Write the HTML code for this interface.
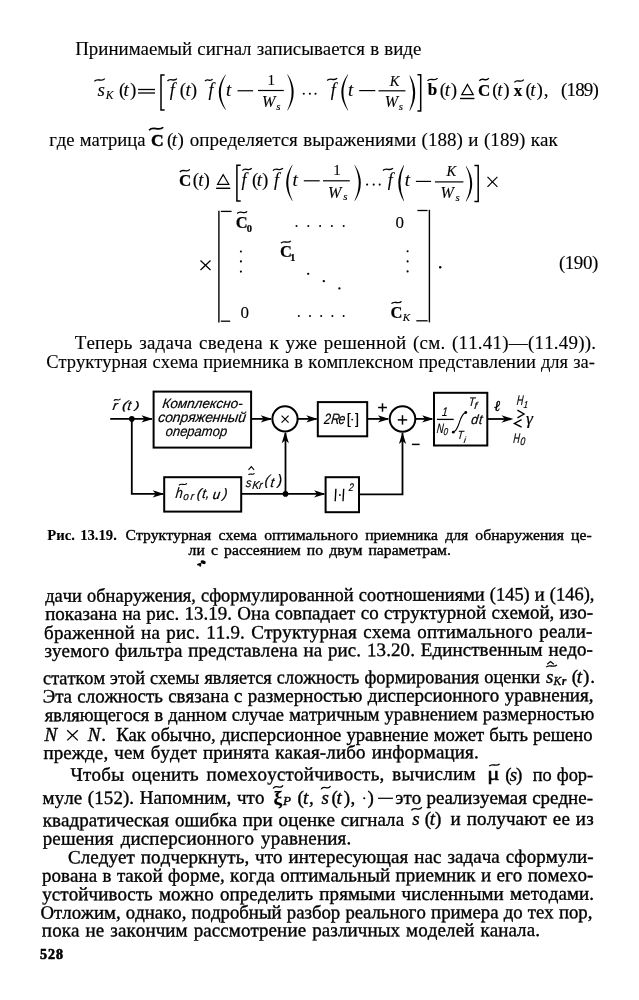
<!DOCTYPE html>
<html><head><meta charset="utf-8"><style>
html,body{margin:0;padding:0;background:#fff;}
svg{display:block;will-change:transform;}
text{font-family:"Liberation Serif",serif;fill:#000;font-kerning:none;white-space:pre;}
</style></head><body>
<svg width="639" height="1000" viewBox="0 0 639 1000">
<rect x="0" y="0" width="639" height="1000" fill="#fff"/>
<text transform="translate(75.21,55.00) scale(0.9954,1)" x="0" y="0" font-size="19" style="word-spacing:0.50px;stroke:#000;stroke-width:0.12px">Принимаемый сигнал записывается в виде</text>
<text transform="translate(49.16,146.00) scale(0.9829,1)" x="0" y="0" font-size="19" style="word-spacing:0.50px;stroke:#000;stroke-width:0.12px">где матрица</text>
<path d="M149.10,130.20 C153.33,125.40 158.97,132.00 163.20,127.20" fill="none" stroke="#000" stroke-width="1.7"/>
<text x="151.05" y="146.40" font-size="17.5" style="font-weight:bold;stroke:#000;stroke-width:0.5px">C</text>
<text x="167.07" y="146.00" font-size="19" style="stroke:#000;stroke-width:0.12px">(</text>
<text x="171.67" y="146.00" font-size="19" style="font-style:italic;stroke:#000;stroke-width:0.12px">t</text>
<text x="177.41" y="146.00" font-size="19" style="stroke:#000;stroke-width:0.12px">)</text>
<text x="189.68" y="146.00" font-size="19" style="word-spacing:0.67px;letter-spacing:0.03px;stroke:#000;stroke-width:0.12px"2.1058593750000227>определяется выражениями (188) и (189) как</text>
<text x="74.66" y="349.00" font-size="19" style="word-spacing:1.63px;letter-spacing:0.20px;stroke:#000;stroke-width:0.12px"19.76318359375>Теперь задача сведена к уже решенной (см. (11.41)—(11.49)).</text>
<text transform="translate(46.24,368.00) scale(0.9742,1)" x="0" y="0" font-size="19" style="word-spacing:0.50px;stroke:#000;stroke-width:0.12px">Структурная схема приемника в комплексном представлении для за-</text>
<text transform="translate(47.25,540.00) scale(1.0500,1)" x="0" y="0" font-size="14" style="font-weight:bold;stroke:#000;stroke-width:0.1px">Рис.</text>
<text transform="translate(80.15,540.00) scale(1.0500,1)" x="0" y="0" font-size="14" style="font-weight:bold;stroke:#000;stroke-width:0.1px">13.19.</text>
<text transform="translate(125.61,540.00) scale(1.1200,1)" x="0" y="0" font-size="14" style="word-spacing:2.89px;stroke:#000;stroke-width:0.35px">Структурная схема оптимального приемника для обнаружения це-</text>
<text transform="translate(188.60,555.00) scale(1.1200,1)" x="0" y="0" font-size="14" style="word-spacing:2.00px;stroke:#000;stroke-width:0.35px">ли с рассеянием по двум параметрам.</text>
<ellipse cx="203.2" cy="562.2" rx="2.7" ry="1.7" transform="rotate(20 203.2 562.2)" fill="#000"/>
<ellipse cx="199.3" cy="564.2" rx="2.4" ry="1.1" transform="rotate(-15 199.3 564.2)" fill="#000"/>
<ellipse cx="200.2" cy="565.3" rx="0.9" ry="1.5" fill="#000"/>
<text transform="rotate(-0.171 45.20 601.90) translate(45.20,601.90) scale(0.9712,1)" x="0" y="0" font-size="19" style="word-spacing:0.50px;stroke:#000;stroke-width:0.35px">дачи обнаружения, сформулированной соотношениями (145) и (146),</text>
<text transform="rotate(-0.165 45.50 620.00)" x="45.16" y="620.00" font-size="19" style="word-spacing:0.53px;letter-spacing:0.01px;stroke:#000;stroke-width:0.35px"0.7443359374999545>показана на рис. 13.19. Она совпадает со структурной схемой, изо-</text>
<text transform="rotate(-0.158 45.00 639.00)" x="44.11" y="639.00" font-size="19" style="word-spacing:1.44px;letter-spacing:0.16px;stroke:#000;stroke-width:0.35px"16.4912109375>браженной на рис. 11.9. Структурная схема оптимального реали-</text>
<text transform="rotate(-0.152 45.00 657.00)" x="44.46" y="657.00" font-size="19" style="word-spacing:0.97px;letter-spacing:0.08px;stroke:#000;stroke-width:0.35px"8.311718749999955>зуемого фильтра представлена на рис. 13.20. Единственным недо-</text>
<text transform="rotate(-0.142 43.80 684.20) translate(43.10,684.20) scale(0.9655,1)" x="0" y="0" font-size="19" style="word-spacing:0.50px;stroke:#000;stroke-width:0.35px">статком этой схемы является сложность формирования оценки</text>
<path d="M547.20,664.20 L550.50,661.60 L553.80,664.20" fill="none" stroke="#000" stroke-width="1.2"/>
<path d="M546.20,667.20 C549.41,663.36 553.69,668.64 556.90,664.80" fill="none" stroke="#000" stroke-width="1.3"/>
<text x="545.97" y="682.50" font-size="19" style="font-style:italic;stroke:#000;stroke-width:0.35px">s</text>
<text x="553.44" y="685.00" font-size="11.6" style="font-style:italic;stroke:#000;stroke-width:0.35px">K</text>
<text x="561.75" y="685.00" font-size="12" style="font-style:italic;font-weight:bold;stroke:#000;stroke-width:0.2px">r</text>
<text x="571.77" y="682.50" font-size="19" style="stroke:#000;stroke-width:0.35px">(</text>
<text x="576.87" y="682.50" font-size="19" style="font-style:italic;stroke:#000;stroke-width:0.35px">t</text>
<text x="582.91" y="682.50" font-size="19" style="stroke:#000;stroke-width:0.35px">)</text>
<text x="590.25" y="682.50" font-size="19" style="stroke:#000;stroke-width:0.35px">.</text>
<text transform="rotate(-0.135 43.75 702.50)" x="42.70" y="702.50" font-size="19" style="word-spacing:0.53px;letter-spacing:0.00px;stroke:#000;stroke-width:0.35px"0.39990234375>Эта сложность связана с размерностью дисперсионного уравнения,</text>
<text transform="rotate(-0.129 44.75 721.20) translate(44.70,721.20) scale(0.9725,1)" x="0" y="0" font-size="19" style="word-spacing:0.50px;stroke:#000;stroke-width:0.35px">являющегося в данном случае матричным уравнением размерностью</text>
<text x="44.54" y="740.50" font-size="19" style="font-style:italic;stroke:#000;stroke-width:0.35px">N</text>
<line x1="67.20" y1="730.20" x2="77.80" y2="740.40" stroke="#000" stroke-width="1.3"/>
<line x1="77.80" y1="730.20" x2="67.20" y2="740.40" stroke="#000" stroke-width="1.3"/>
<text x="87.84" y="740.50" font-size="19" style="font-style:italic;stroke:#000;stroke-width:0.35px">N</text>
<text x="101.35" y="740.50" font-size="19" style="stroke:#000;stroke-width:0.35px">.</text>
<text transform="translate(116.16,740.50) scale(0.9817,1)" x="0" y="0" font-size="19" style="word-spacing:0.50px;stroke:#000;stroke-width:0.35px">Как обычно, дисперсионное уравнение может быть решено</text>
<text transform="rotate(-0.115 43.75 759.00)" x="43.41" y="759.00" font-size="19" style="word-spacing:1.21px;letter-spacing:0.11px;stroke:#000;stroke-width:0.35px"8.8154296875>прежде, чем будет принята какая-либо информация.</text>
<text transform="rotate(-0.108 70.60 780.80)" x="70.41" y="780.80" font-size="19" style="word-spacing:2.67px;letter-spacing:0.24px;stroke:#000;stroke-width:0.35px"16.259472656249955>Чтобы оценить помехоустойчивость, вычислим</text>
<path d="M489.20,766.20 C492.32,762.36 496.48,767.64 499.60,763.80" fill="none" stroke="#000" stroke-width="1.3"/>
<text transform="translate(487.35,780.30) scale(1.2000,1)" x="0" y="0" font-size="19" style="stroke:#000;stroke-width:0.5px">μ</text>
<text x="505.27" y="780.50" font-size="19" style="stroke:#000;stroke-width:0.35px">(</text>
<text x="509.77" y="780.50" font-size="19" style="font-style:italic;stroke:#000;stroke-width:0.35px">s</text>
<text x="516.01" y="780.50" font-size="19" style="stroke:#000;stroke-width:0.35px">)</text>
<text transform="translate(532.67,780.50) scale(0.9671,1)" x="0" y="0" font-size="19" style="word-spacing:0.50px;stroke:#000;stroke-width:0.35px">по фор-</text>
<text transform="rotate(-0.099 43.00 804.00)" x="42.56" y="804.00" font-size="19" style="word-spacing:0.84px;letter-spacing:0.06px;stroke:#000;stroke-width:0.35px"2.5534179687500114>муле (152). Напомним, что</text>
<path d="M273.10,788.50 C276.07,783.38 280.03,790.42 283.00,785.30" fill="none" stroke="#000" stroke-width="1.3"/>
<text x="273.49" y="804.30" font-size="19.5" style="font-weight:bold;stroke:#000;stroke-width:0.2px">ξ</text>
<text transform="translate(283.07,804.50) scale(1.1500,1)" x="0" y="0" font-size="11.5" style="font-style:italic;stroke:#000;stroke-width:0.35px">P</text>
<text x="297.47" y="804.00" font-size="19" style="stroke:#000;stroke-width:0.35px">(</text>
<text x="302.97" y="804.00" font-size="19" style="font-style:italic;stroke:#000;stroke-width:0.35px">t</text>
<text x="309.08" y="804.00" font-size="19" style="stroke:#000;stroke-width:0.35px">,</text>
<path d="M321.10,789.20 C323.92,784.08 327.68,791.12 330.50,786.00" fill="none" stroke="#000" stroke-width="1.3"/>
<text x="321.52" y="803.50" font-size="19" style="font-style:italic;stroke:#000;stroke-width:0.35px">s</text>
<text x="331.57" y="803.50" font-size="19" style="stroke:#000;stroke-width:0.35px">(</text>
<text x="336.57" y="803.50" font-size="19" style="font-style:italic;stroke:#000;stroke-width:0.35px">t</text>
<text x="343.76" y="803.50" font-size="19" style="stroke:#000;stroke-width:0.35px">)</text>
<text x="350.38" y="803.50" font-size="19" style="stroke:#000;stroke-width:0.35px">,</text>
<circle cx="364.25" cy="798.25" r="1.10" fill="#000"/>
<text x="367.51" y="803.50" font-size="19" style="stroke:#000;stroke-width:0.35px">)</text>
<line x1="378.00" y1="798.30" x2="393.00" y2="798.30" stroke="#000" stroke-width="1.2"/>
<text transform="translate(395.36,803.50) scale(0.9988,1)" x="0" y="0" font-size="19" style="word-spacing:0.50px;stroke:#000;stroke-width:0.35px">это реализуемая средне-</text>
<text transform="rotate(-0.091 43.00 826.40)" x="42.66" y="826.40" font-size="19" style="word-spacing:0.96px;letter-spacing:0.07px;stroke:#000;stroke-width:0.35px"4.563183593750011>квадратическая ошибка при оценке сигнала</text>
<path d="M411.40,810.40 C414.52,805.28 418.68,812.32 421.80,807.20" fill="none" stroke="#000" stroke-width="1.3"/>
<text x="412.27" y="825.30" font-size="19" style="font-style:italic;stroke:#000;stroke-width:0.35px">s</text>
<text x="424.87" y="825.30" font-size="19" style="stroke:#000;stroke-width:0.35px">(</text>
<text x="429.77" y="825.30" font-size="19" style="font-style:italic;stroke:#000;stroke-width:0.35px">t</text>
<text x="435.01" y="825.30" font-size="19" style="stroke:#000;stroke-width:0.35px">)</text>
<text x="450.56" y="825.30" font-size="19" style="word-spacing:0.97px;letter-spacing:0.14px;stroke:#000;stroke-width:0.35px"3.4901367187500227>и получают ее из</text>
<text transform="rotate(-0.085 43.00 844.80)" x="42.69" y="844.80" font-size="19" style="word-spacing:2.01px;letter-spacing:0.14px;stroke:#000;stroke-width:0.35px"7.55712890625>решения дисперсионного уравнения.</text>
<text transform="rotate(-0.078 68.70 863.40)" x="67.92" y="863.40" font-size="19" style="word-spacing:1.02px;letter-spacing:0.08px;stroke:#000;stroke-width:0.35px"7.7340820312499545>Следует подчеркнуть, что интересующая нас задача сформули-</text>
<text transform="rotate(-0.072 42.40 881.80)" x="42.09" y="881.80" font-size="19" style="word-spacing:0.60px;letter-spacing:0.02px;stroke:#000;stroke-width:0.35px"2.3404296874999773>рована в такой форме, когда оптимальный приемник и его помехо-</text>
<text transform="rotate(-0.065 42.40 900.40)" x="42.17" y="900.40" font-size="19" style="word-spacing:1.26px;letter-spacing:0.10px;stroke:#000;stroke-width:0.35px"9.442968749999977>устойчивость можно определить прямыми численными методами.</text>
<text transform="rotate(-0.059 41.30 918.70) translate(40.53,918.70) scale(0.9894,1)" x="0" y="0" font-size="19" style="word-spacing:0.50px;stroke:#000;stroke-width:0.35px">Отложим, однако, подробный разбор реального примера до тех пор,</text>
<text transform="rotate(-0.057 42.20 936.60)" x="41.86" y="936.60" font-size="19" style="word-spacing:1.11px;letter-spacing:0.10px;stroke:#000;stroke-width:0.35px"9.087109375000011>пока не закончим рассмотрение различных моделей канала.</text>
<text x="40.04" y="959.00" font-size="14" style="font-weight:bold;letter-spacing:0.96px;stroke:#000;stroke-width:0.6px">528</text>
<path d="M94.40,81.30 C97.51,77.14 101.64,82.86 104.75,78.70" fill="none" stroke="#000" stroke-width="1.3"/>
<text x="97.52" y="96.00" font-size="19" style="font-style:italic;stroke:#000;stroke-width:0.12px">s</text>
<text x="105.73" y="98.60" font-size="11.5" style="font-style:italic;stroke:#000;stroke-width:0.12px">K</text>
<text x="118.92" y="96.00" font-size="19" style="stroke:#000;stroke-width:0.12px">(</text>
<text x="123.57" y="96.00" font-size="19" style="font-style:italic;stroke:#000;stroke-width:0.12px">t</text>
<text x="130.11" y="96.00" font-size="19" style="stroke:#000;stroke-width:0.12px">)</text>
<line x1="138.10" y1="89.50" x2="155.00" y2="89.50" stroke="#000" stroke-width="1.3"/>
<line x1="138.10" y1="93.00" x2="155.00" y2="93.00" stroke="#000" stroke-width="1.3"/>
<path d="M164.60,75.10 L161.00,75.10 L161.00,110.10 L164.60,110.10" fill="none" stroke="#000" stroke-width="1.5"/>
<path d="M167.50,81.00 C170.32,77.16 174.08,82.44 176.90,78.60" fill="none" stroke="#000" stroke-width="1.3"/>
<text x="169.80" y="96.00" font-size="18" style="font-style:italic;stroke:#000;stroke-width:0.12px">f</text>
<text x="179.77" y="96.00" font-size="19" style="stroke:#000;stroke-width:0.12px">(</text>
<text x="185.42" y="96.00" font-size="19" style="font-style:italic;stroke:#000;stroke-width:0.12px">t</text>
<text x="190.76" y="96.00" font-size="19" style="stroke:#000;stroke-width:0.12px">)</text>
<path d="M205.00,81.20 C207.25,77.68 210.25,82.52 212.50,79.00" fill="none" stroke="#000" stroke-width="1.3"/>
<text x="208.55" y="96.00" font-size="18" style="font-style:italic;stroke:#000;stroke-width:0.12px">f</text>
<path d="M225.60,74.50 Q211.90,92.30 225.60,110.10 L225.90,109.80 Q215.70,92.30 225.90,74.80 Z" fill="#000"/>
<text x="226.07" y="96.00" font-size="19" style="font-style:italic;stroke:#000;stroke-width:0.12px">t</text>
<line x1="237.50" y1="90.75" x2="253.10" y2="90.75" stroke="#000" stroke-width="1.2"/>
<line x1="258.00" y1="90.50" x2="283.80" y2="90.50" stroke="#000" stroke-width="1.2"/>
<text x="267.48" y="85.10" font-size="15" style="stroke:#000;stroke-width:0.12px">1</text>
<text x="262.05" y="107.00" font-size="16" style="font-style:italic;stroke:#000;stroke-width:0.12px">W</text>
<text x="276.17" y="109.60" font-size="11" style="font-style:italic;stroke:#000;stroke-width:0.12px">s</text>
<path d="M287.60,74.30 Q299.80,92.40 287.60,110.50 L287.30,110.20 Q296.00,92.40 287.30,74.60 Z" fill="#000"/>
<circle cx="303.80" cy="93.80" r="1.05" fill="#000"/>
<circle cx="309.90" cy="93.80" r="1.05" fill="#000"/>
<circle cx="315.50" cy="93.80" r="1.05" fill="#000"/>
<path d="M327.20,80.50 C330.17,76.66 334.13,81.94 337.10,78.10" fill="none" stroke="#000" stroke-width="1.3"/>
<text x="330.80" y="96.00" font-size="18" style="font-style:italic;stroke:#000;stroke-width:0.12px">f</text>
<path d="M347.90,74.30 Q334.70,92.40 347.90,110.50 L348.20,110.20 Q338.50,92.40 348.20,74.60 Z" fill="#000"/>
<text x="347.97" y="96.00" font-size="19" style="font-style:italic;stroke:#000;stroke-width:0.12px">t</text>
<line x1="359.20" y1="90.60" x2="375.30" y2="90.60" stroke="#000" stroke-width="1.2"/>
<line x1="378.50" y1="90.80" x2="405.40" y2="90.80" stroke="#000" stroke-width="1.2"/>
<text x="389.67" y="86.00" font-size="14.5" style="font-style:italic;stroke:#000;stroke-width:0.12px">K</text>
<text x="384.65" y="107.00" font-size="16" style="font-style:italic;stroke:#000;stroke-width:0.12px">W</text>
<text x="398.67" y="110.30" font-size="11" style="font-style:italic;stroke:#000;stroke-width:0.12px">s</text>
<path d="M409.80,75.30 Q420.60,93.10 409.80,110.90 L409.50,110.60 Q416.80,93.10 409.50,75.60 Z" fill="#000"/>
<path d="M417.40,74.70 L420.70,74.70 L420.70,110.90 L417.40,110.90" fill="none" stroke="#000" stroke-width="1.5"/>
<path d="M427.50,80.80 C430.50,76.64 434.50,82.36 437.50,78.20" fill="none" stroke="#000" stroke-width="1.3"/>
<text x="427.78" y="95.10" font-size="17" style="font-weight:bold;stroke:#000;stroke-width:0.2px">b</text>
<text x="439.77" y="96.00" font-size="19" style="stroke:#000;stroke-width:0.12px">(</text>
<text x="444.77" y="96.00" font-size="19" style="font-style:italic;stroke:#000;stroke-width:0.12px">t</text>
<text x="450.76" y="96.00" font-size="19" style="stroke:#000;stroke-width:0.12px">)</text>
<path d="M467.5,84.4 L461.8,94.6 L473.2,94.6 Z" fill="none" stroke="#000" stroke-width="1.2"/>
<line x1="460.00" y1="98.50" x2="474.40" y2="98.50" stroke="#000" stroke-width="1.4"/>
<path d="M479.40,80.90 C482.20,76.42 485.94,82.58 488.75,78.10" fill="none" stroke="#000" stroke-width="1.3"/>
<text x="477.92" y="96.00" font-size="17" style="font-weight:bold;stroke:#000;stroke-width:0.2px">C</text>
<text x="492.27" y="96.00" font-size="19" style="stroke:#000;stroke-width:0.12px">(</text>
<text x="497.17" y="96.00" font-size="19" style="font-style:italic;stroke:#000;stroke-width:0.12px">t</text>
<text x="503.26" y="96.00" font-size="19" style="stroke:#000;stroke-width:0.12px">)</text>
<path d="M514.40,82.30 C517.20,78.14 520.94,83.86 523.75,79.70" fill="none" stroke="#000" stroke-width="1.3"/>
<text x="513.68" y="96.00" font-size="17" style="font-weight:bold;stroke:#000;stroke-width:0.2px">x</text>
<text x="525.42" y="96.00" font-size="19" style="stroke:#000;stroke-width:0.12px">(</text>
<text x="530.37" y="96.00" font-size="19" style="font-style:italic;stroke:#000;stroke-width:0.12px">t</text>
<text x="536.41" y="96.00" font-size="19" style="stroke:#000;stroke-width:0.12px">)</text>
<text x="543.68" y="96.00" font-size="19" style="stroke:#000;stroke-width:0.12px">,</text>
<text x="561.07" y="96.00" font-size="19" style="letter-spacing:-0.85px;stroke:#000;stroke-width:0.12px">(189)</text>
<path d="M179.90,172.00 C182.87,167.84 186.83,173.56 189.80,169.40" fill="none" stroke="#000" stroke-width="1.3"/>
<text x="179.07" y="185.70" font-size="17" style="font-weight:bold;stroke:#000;stroke-width:0.2px">C</text>
<text x="192.77" y="186.00" font-size="19" style="stroke:#000;stroke-width:0.12px">(</text>
<text x="198.27" y="186.00" font-size="19" style="font-style:italic;stroke:#000;stroke-width:0.12px">t</text>
<text x="203.51" y="186.00" font-size="19" style="stroke:#000;stroke-width:0.12px">)</text>
<path d="M223.2,174.6 L217.6,184.3 L228.8,184.3 Z" fill="none" stroke="#000" stroke-width="1.2"/>
<line x1="216.10" y1="188.30" x2="230.30" y2="188.30" stroke="#000" stroke-width="1.4"/>
<path d="M240.70,165.30 L236.90,165.30 L236.90,200.90 L240.70,200.90" fill="none" stroke="#000" stroke-width="1.5"/>
<path d="M242.40,170.60 C245.19,166.76 248.91,172.04 251.70,168.20" fill="none" stroke="#000" stroke-width="1.3"/>
<text x="241.60" y="186.00" font-size="18" style="font-style:italic;stroke:#000;stroke-width:0.12px">f</text>
<text x="251.97" y="186.00" font-size="19" style="stroke:#000;stroke-width:0.12px">(</text>
<text x="256.87" y="186.00" font-size="19" style="font-style:italic;stroke:#000;stroke-width:0.12px">t</text>
<text x="262.11" y="186.00" font-size="19" style="stroke:#000;stroke-width:0.12px">)</text>
<path d="M273.00,170.60 C275.97,166.76 279.93,172.04 282.90,168.20" fill="none" stroke="#000" stroke-width="1.3"/>
<text x="273.90" y="186.00" font-size="18" style="font-style:italic;stroke:#000;stroke-width:0.12px">f</text>
<path d="M292.20,164.70 Q280.20,182.80 292.20,200.90 L292.50,200.60 Q284.00,182.80 292.50,165.00 Z" fill="#000"/>
<text x="292.47" y="186.00" font-size="19" style="font-style:italic;stroke:#000;stroke-width:0.12px">t</text>
<line x1="303.80" y1="180.80" x2="319.70" y2="180.80" stroke="#000" stroke-width="1.2"/>
<line x1="323.00" y1="180.80" x2="349.80" y2="180.80" stroke="#000" stroke-width="1.2"/>
<text x="333.18" y="175.30" font-size="15" style="stroke:#000;stroke-width:0.12px">1</text>
<text x="327.95" y="197.80" font-size="16" style="font-style:italic;stroke:#000;stroke-width:0.12px">W</text>
<text x="343.17" y="200.30" font-size="11" style="font-style:italic;stroke:#000;stroke-width:0.12px">s</text>
<path d="M354.80,164.90 Q366.80,182.95 354.80,201.00 L354.50,200.70 Q363.00,182.95 354.50,165.20 Z" fill="#000"/>
<circle cx="367.10" cy="184.60" r="1.05" fill="#000"/>
<circle cx="373.70" cy="184.60" r="1.05" fill="#000"/>
<circle cx="379.70" cy="184.60" r="1.05" fill="#000"/>
<path d="M383.00,170.50 C385.97,166.66 389.93,171.94 392.90,168.10" fill="none" stroke="#000" stroke-width="1.3"/>
<text x="387.70" y="186.00" font-size="18" style="font-style:italic;stroke:#000;stroke-width:0.12px">f</text>
<path d="M403.80,164.90 Q392.80,183.05 403.80,201.20 L404.10,200.90 Q396.60,183.05 404.10,165.20 Z" fill="#000"/>
<text x="404.67" y="186.00" font-size="19" style="font-style:italic;stroke:#000;stroke-width:0.12px">t</text>
<line x1="415.90" y1="181.40" x2="431.10" y2="181.40" stroke="#000" stroke-width="1.2"/>
<line x1="434.90" y1="181.90" x2="463.40" y2="181.90" stroke="#000" stroke-width="1.2"/>
<text x="446.57" y="176.40" font-size="14.5" style="font-style:italic;stroke:#000;stroke-width:0.12px">K</text>
<text x="440.45" y="198.30" font-size="16" style="font-style:italic;stroke:#000;stroke-width:0.12px">W</text>
<text x="455.57" y="201.30" font-size="11" style="font-style:italic;stroke:#000;stroke-width:0.12px">s</text>
<path d="M466.10,166.00 Q478.30,183.80 466.10,201.60 L465.80,201.30 Q474.50,183.80 465.80,166.30 Z" fill="#000"/>
<path d="M474.40,165.50 L478.20,165.50 L478.20,201.60 L474.40,201.60" fill="none" stroke="#000" stroke-width="1.5"/>
<line x1="487.50" y1="176.90" x2="497.40" y2="186.90" stroke="#000" stroke-width="1.2"/>
<line x1="497.40" y1="176.90" x2="487.50" y2="186.90" stroke="#000" stroke-width="1.2"/>
<line x1="200.50" y1="260.50" x2="210.50" y2="270.00" stroke="#000" stroke-width="1.2"/>
<line x1="210.50" y1="260.50" x2="200.50" y2="270.00" stroke="#000" stroke-width="1.2"/>
<line x1="218.90" y1="210.80" x2="218.90" y2="322.60" stroke="#000" stroke-width="1.4"/>
<line x1="220.80" y1="211.40" x2="231.60" y2="211.40" stroke="#000" stroke-width="1.3"/>
<line x1="220.80" y1="321.20" x2="230.20" y2="321.20" stroke="#000" stroke-width="1.3"/>
<line x1="429.40" y1="209.80" x2="429.40" y2="322.40" stroke="#000" stroke-width="1.4"/>
<line x1="417.40" y1="210.50" x2="427.60" y2="210.50" stroke="#000" stroke-width="1.3"/>
<line x1="416.30" y1="320.80" x2="427.60" y2="320.80" stroke="#000" stroke-width="1.3"/>
<path d="M237.20,213.50 C240.17,209.98 244.13,214.82 247.10,211.30" fill="none" stroke="#000" stroke-width="1.3"/>
<text x="235.69" y="227.50" font-size="16.5" style="font-weight:bold;stroke:#000;stroke-width:0.2px">C</text>
<text x="246.70" y="231.80" font-size="10.5" style="font-weight:bold;stroke:#000;stroke-width:0.2px">0</text>
<circle cx="296.50" cy="226.00" r="1.00" fill="#000"/>
<circle cx="308.30" cy="226.00" r="1.00" fill="#000"/>
<circle cx="320.10" cy="226.00" r="1.00" fill="#000"/>
<circle cx="331.90" cy="226.00" r="1.00" fill="#000"/>
<circle cx="343.70" cy="226.00" r="1.00" fill="#000"/>
<text x="395.60" y="228.00" font-size="17" style="stroke:#000;stroke-width:0.12px">0</text>
<circle cx="240.90" cy="251.50" r="1.05" fill="#000"/>
<circle cx="240.90" cy="261.40" r="1.05" fill="#000"/>
<circle cx="240.90" cy="271.60" r="1.05" fill="#000"/>
<path d="M280.90,243.10 C283.87,239.58 287.83,244.42 290.80,240.90" fill="none" stroke="#000" stroke-width="1.3"/>
<text x="280.09" y="257.10" font-size="16.5" style="font-weight:bold;stroke:#000;stroke-width:0.2px">C</text>
<text x="289.92" y="260.60" font-size="11" style="font-weight:bold;stroke:#000;stroke-width:0.2px">1</text>
<circle cx="407.60" cy="251.30" r="1.05" fill="#000"/>
<circle cx="407.60" cy="261.40" r="1.05" fill="#000"/>
<circle cx="407.60" cy="271.40" r="1.05" fill="#000"/>
<circle cx="308.20" cy="273.80" r="1.15" fill="#000"/>
<circle cx="323.80" cy="281.20" r="1.15" fill="#000"/>
<circle cx="339.40" cy="288.40" r="1.15" fill="#000"/>
<text x="240.60" y="317.50" font-size="17" style="stroke:#000;stroke-width:0.12px">0</text>
<circle cx="298.80" cy="316.00" r="1.00" fill="#000"/>
<circle cx="310.00" cy="316.00" r="1.00" fill="#000"/>
<circle cx="321.20" cy="316.00" r="1.00" fill="#000"/>
<circle cx="332.40" cy="316.00" r="1.00" fill="#000"/>
<circle cx="343.60" cy="316.00" r="1.00" fill="#000"/>
<path d="M391.50,303.70 C394.50,299.86 398.50,305.14 401.50,301.30" fill="none" stroke="#000" stroke-width="1.3"/>
<text x="390.44" y="317.50" font-size="16.5" style="font-weight:bold;stroke:#000;stroke-width:0.2px">C</text>
<text x="402.63" y="320.50" font-size="11" style="font-style:italic;stroke:#000;stroke-width:0.12px">K</text>
<circle cx="440.20" cy="267.20" r="1.20" fill="#000"/>
<text x="558.92" y="269.40" font-size="19" style="letter-spacing:-0.43px;stroke:#000;stroke-width:0.12px">(190)</text>
<line x1="110.20" y1="418.90" x2="152.00" y2="418.90" stroke="#000" stroke-width="1.8"/>
<polygon points="153.00,418.90 141.50,415.30 144.50,418.90 141.50,422.50" fill="#000"/>
<circle cx="131.80" cy="418.90" r="2.80" fill="#000"/>
<line x1="131.80" y1="418.90" x2="131.80" y2="493.90" stroke="#000" stroke-width="1.8"/>
<line x1="130.90" y1="493.90" x2="163.00" y2="493.90" stroke="#000" stroke-width="1.8"/>
<polygon points="164.20,493.90 152.70,490.30 155.70,493.90 152.70,497.50" fill="#000"/>
<rect x="153.60" y="391.60" width="97.50" height="56.00" fill="none" stroke="#000" stroke-width="2"/>
<line x1="251.10" y1="418.90" x2="271.00" y2="418.90" stroke="#000" stroke-width="1.8"/>
<polygon points="272.20,418.90 260.70,415.30 263.70,418.90 260.70,422.50" fill="#000"/>
<circle cx="285.00" cy="418.90" r="12.60" fill="none" stroke="#000" stroke-width="2"/>
<line x1="281.60" y1="415.60" x2="288.60" y2="422.60" stroke="#000" stroke-width="1.2"/>
<line x1="288.60" y1="415.60" x2="281.60" y2="422.60" stroke="#000" stroke-width="1.2"/>
<line x1="298.00" y1="418.90" x2="316.50" y2="418.90" stroke="#000" stroke-width="1.8"/>
<polygon points="317.80,418.90 306.30,415.30 309.30,418.90 306.30,422.50" fill="#000"/>
<rect x="317.80" y="402.10" width="49.40" height="34.20" fill="none" stroke="#000" stroke-width="2"/>
<line x1="367.20" y1="418.90" x2="388.00" y2="418.90" stroke="#000" stroke-width="1.8"/>
<polygon points="389.40,418.90 377.90,415.30 380.90,418.90 377.90,422.50" fill="#000"/>
<circle cx="402.50" cy="419.00" r="12.80" fill="none" stroke="#000" stroke-width="2"/>
<line x1="402.50" y1="415.20" x2="402.50" y2="424.60" stroke="#000" stroke-width="1.5"/>
<line x1="397.80" y1="419.90" x2="407.20" y2="419.90" stroke="#000" stroke-width="1.5"/>
<line x1="415.60" y1="418.90" x2="432.00" y2="418.90" stroke="#000" stroke-width="1.8"/>
<polygon points="433.60,418.90 422.10,415.30 425.10,418.90 422.10,422.50" fill="#000"/>
<rect x="434.00" y="392.80" width="53.30" height="52.70" fill="none" stroke="#000" stroke-width="2"/>
<line x1="487.30" y1="419.00" x2="511.00" y2="419.00" stroke="#000" stroke-width="1.8"/>
<polygon points="513.40,419.00 501.40,415.20 504.90,419.00 501.40,422.80" fill="#000"/>
<line x1="241.20" y1="493.90" x2="324.00" y2="493.90" stroke="#000" stroke-width="1.8"/>
<polygon points="325.60,493.90 314.10,490.30 317.10,493.90 314.10,497.50" fill="#000"/>
<circle cx="285.50" cy="493.90" r="2.80" fill="#000"/>
<line x1="285.50" y1="493.90" x2="285.50" y2="433.00" stroke="#000" stroke-width="1.8"/>
<polygon points="285.30,431.80 281.70,443.30 285.30,440.30 288.90,443.30" fill="#000"/>
<rect x="164.20" y="477.20" width="77.00" height="34.40" fill="none" stroke="#000" stroke-width="2"/>
<rect x="325.60" y="477.20" width="33.40" height="35.00" fill="none" stroke="#000" stroke-width="2"/>
<polyline points="359,494.3 402.5,494.3 402.5,433" fill="none" stroke="#000" stroke-width="1.8"/>
<polygon points="402.50,432.40 398.90,443.90 402.50,440.90 406.10,443.90" fill="#000"/>
<path d="M113.90,400.80 C115.88,397.60 118.52,402.00 120.50,398.80" fill="none" stroke="#000" stroke-width="1.1"/>
<text transform="translate(112.26,410.30) scale(1.1000,1) skewX(-7)" x="0" y="0" font-size="13" style="font-family:'Liberation Sans';font-style:italic;stroke:#000;stroke-width:0.2px">r</text>
<text transform="translate(121.67,409.30) scale(1.3500,1) skewX(-7)" x="0" y="0" font-size="11.6" style="font-family:'Liberation Sans';font-style:italic;stroke:#000;stroke-width:0.2px">(</text>
<text transform="translate(126.99,410.30) scale(1.0000,1) skewX(-7)" x="0" y="0" font-size="13.5" style="font-family:'Liberation Sans';font-style:italic;stroke:#000;stroke-width:0.2px">t</text>
<text transform="translate(134.52,409.30) scale(1.3500,1)" x="0" y="0" font-size="11.6" style="font-family:'Liberation Sans';font-style:italic;stroke:#000;stroke-width:0.2px">)</text>
<text transform="translate(161.88,407.70) scale(1.0000,1) skewX(-7)" x="0" y="0" font-size="13.5" style="font-family:'Liberation Sans';font-style:italic;letter-spacing:0.05px;stroke:#000;stroke-width:0.2px">Комnлексно-</text>
<text transform="translate(157.74,421.70) scale(1.0000,1) skewX(-7)" x="0" y="0" font-size="14" style="font-family:'Liberation Sans';font-style:italic;letter-spacing:-0.09px;stroke:#000;stroke-width:0.2px">соnряженный</text>
<text transform="translate(165.17,436.30) scale(0.9300,1) skewX(-7)" x="0" y="0" font-size="14" style="font-family:'Liberation Sans';font-style:italic;stroke:#000;stroke-width:0.2px">оnераmор</text>
<text transform="translate(323.82,424.40) scale(0.8000,1) skewX(-7)" x="0" y="0" font-size="15" style="font-family:'Liberation Sans';font-style:italic;stroke:#000;stroke-width:0.2px">2</text>
<text transform="translate(330.63,424.40) scale(0.8000,1) skewX(-7)" x="0" y="0" font-size="15" style="font-family:'Liberation Sans';font-style:italic;letter-spacing:-1.41px;stroke:#000;stroke-width:0.2px">Re</text>
<text x="346.72" y="423.90" font-size="14.5" style="font-family:'Liberation Sans';stroke:#000;stroke-width:0.2px">[</text>
<circle cx="352.20" cy="419.60" r="0.90" fill="#000"/>
<text x="355.11" y="423.90" font-size="14.5" style="font-family:'Liberation Sans';stroke:#000;stroke-width:0.2px">]</text>
<line x1="378.10" y1="407.50" x2="386.90" y2="407.50" stroke="#000" stroke-width="1.5"/>
<line x1="382.50" y1="403.30" x2="382.50" y2="411.70" stroke="#000" stroke-width="1.5"/>
<line x1="411.90" y1="444.40" x2="419.60" y2="444.40" stroke="#000" stroke-width="1.5"/>
<text transform="translate(441.64,416.30) scale(0.8000,1) skewX(-7)" x="0" y="0" font-size="12.5" style="font-family:'Liberation Sans';font-style:italic;stroke:#000;stroke-width:0.2px">1</text>
<line x1="436.90" y1="419.40" x2="453.70" y2="419.40" stroke="#000" stroke-width="1.3"/>
<text transform="translate(436.61,432.50) scale(0.7000,1) skewX(-7)" x="0" y="0" font-size="13.5" style="font-family:'Liberation Sans';font-style:italic;stroke:#000;stroke-width:0.2px">N</text>
<text transform="translate(443.15,435.00) scale(0.8000,1) skewX(-7)" x="0" y="0" font-size="10" style="font-family:'Liberation Sans';font-style:italic;stroke:#000;stroke-width:0.2px">0</text>
<path d="M453.6,431.8 C456.5,431 457.5,428 459,423.5 C460.5,419 462,413.5 465.6,412.6" fill="none" stroke="#000" stroke-width="1.1"/>
<circle cx="453.30" cy="432.20" r="1.40" fill="#000"/>
<circle cx="465.80" cy="412.50" r="1.40" fill="#000"/>
<text transform="translate(468.50,405.50) scale(0.8000,1) skewX(-7)" x="0" y="0" font-size="12.5" style="font-family:'Liberation Sans';font-style:italic;stroke:#000;stroke-width:0.2px">T</text>
<text transform="translate(474.06,408.60) scale(1.0000,1) skewX(-7)" x="0" y="0" font-size="10" style="font-family:'Liberation Sans';font-style:italic;stroke:#000;stroke-width:0.2px">f</text>
<text transform="translate(470.82,424.30) scale(0.9500,1) skewX(-7)" x="0" y="0" font-size="13.5" style="font-family:'Liberation Sans';font-style:italic;stroke:#000;stroke-width:0.2px">d</text>
<text transform="translate(478.62,424.30) scale(0.9500,1) skewX(-7)" x="0" y="0" font-size="13.5" style="font-family:'Liberation Sans';font-style:italic;stroke:#000;stroke-width:0.2px">t</text>
<text transform="translate(457.24,439.20) scale(0.8000,1) skewX(-7)" x="0" y="0" font-size="12" style="font-family:'Liberation Sans';font-style:italic;stroke:#000;stroke-width:0.2px">T</text>
<text transform="translate(463.45,443.00) scale(1.0000,1) skewX(-7)" x="0" y="0" font-size="9" style="font-family:'Liberation Sans';font-style:italic;stroke:#000;stroke-width:0.2px">i</text>
<text x="494.09" y="411.00" font-size="15" style="font-style:italic;stroke:#000;stroke-width:0.35px">ℓ</text>
<text transform="translate(516.62,404.90) scale(0.6500,1) skewX(-7)" x="0" y="0" font-size="14" style="font-family:'Liberation Sans';font-style:italic;stroke:#000;stroke-width:0.2px">H</text>
<text transform="translate(523.29,408.20) scale(0.8000,1) skewX(-7)" x="0" y="0" font-size="10" style="font-family:'Liberation Sans';font-style:italic;stroke:#000;stroke-width:0.2px">1</text>
<path d="M517.4,410.2 L524,414 L517.4,417.8" fill="none" stroke="#000" stroke-width="1.4"/>
<path d="M521.6,419.6 L514.4,423.4 L521.6,427.2" fill="none" stroke="#000" stroke-width="1.4"/>
<text transform="translate(525.98,423.50) scale(1.1000,1)" x="0" y="0" font-size="16" style="font-style:italic;stroke:#000;stroke-width:0.2px">γ</text>
<text transform="translate(512.92,442.50) scale(0.6500,1) skewX(-7)" x="0" y="0" font-size="14" style="font-family:'Liberation Sans';font-style:italic;stroke:#000;stroke-width:0.2px">H</text>
<text transform="translate(520.12,445.30) scale(0.8000,1) skewX(-7)" x="0" y="0" font-size="11" style="font-family:'Liberation Sans';font-style:italic;stroke:#000;stroke-width:0.2px">0</text>
<path d="M178.90,485.40 C181.30,482.20 184.50,486.60 186.90,483.40" fill="none" stroke="#000" stroke-width="1.1"/>
<text transform="translate(175.29,498.20) scale(0.8500,1) skewX(-7)" x="0" y="0" font-size="15" style="font-family:'Liberation Sans';font-style:italic;stroke:#000;stroke-width:0.2px">h</text>
<text transform="translate(182.88,500.30) scale(0.9000,1) skewX(-7)" x="0" y="0" font-size="11" style="font-family:'Liberation Sans';font-style:italic;letter-spacing:2.21px;stroke:#000;stroke-width:0.2px">or</text>
<text transform="translate(196.56,497.60) scale(1.0000,1) skewX(-7)" x="0" y="0" font-size="13.6" style="font-family:'Liberation Sans';font-style:italic;stroke:#000;stroke-width:0.2px">(</text>
<text transform="translate(201.79,498.40) scale(1.0000,1) skewX(-7)" x="0" y="0" font-size="13.5" style="font-family:'Liberation Sans';font-style:italic;stroke:#000;stroke-width:0.2px">t,</text>
<text transform="translate(212.13,498.60) scale(1.0000,1) skewX(-7)" x="0" y="0" font-size="13.5" style="font-family:'Liberation Sans';font-style:italic;stroke:#000;stroke-width:0.2px">u</text>
<text transform="translate(222.58,497.80) scale(1.0000,1) skewX(-7)" x="0" y="0" font-size="13.6" style="font-family:'Liberation Sans';font-style:italic;stroke:#000;stroke-width:0.2px">)</text>
<path d="M248.50,469.90 L251.30,466.70 L254.10,469.90" fill="none" stroke="#000" stroke-width="1.1"/>
<path d="M248.50,475.00 C250.30,472.12 252.70,476.08 254.50,473.20" fill="none" stroke="#000" stroke-width="1.1"/>
<text transform="translate(245.57,486.80) scale(0.9000,1) skewX(-7)" x="0" y="0" font-size="12.5" style="font-family:'Liberation Sans';font-style:italic;stroke:#000;stroke-width:0.2px">s</text>
<text transform="translate(251.88,489.10) scale(0.9000,1) skewX(-7)" x="0" y="0" font-size="11.5" style="font-family:'Liberation Sans';font-style:italic;stroke:#000;stroke-width:0.2px">Kr</text>
<text transform="translate(264.23,485.30) scale(1.0000,1) skewX(-7)" x="0" y="0" font-size="14.2" style="font-family:'Liberation Sans';font-style:italic;stroke:#000;stroke-width:0.2px">(</text>
<text transform="translate(269.89,486.50) scale(1.0000,1) skewX(-7)" x="0" y="0" font-size="13.5" style="font-family:'Liberation Sans';font-style:italic;stroke:#000;stroke-width:0.2px">t</text>
<text x="277.42" y="485.30" font-size="14.2" style="font-family:'Liberation Sans';font-style:italic;stroke:#000;stroke-width:0.2px">)</text>
<line x1="335.90" y1="488.80" x2="335.20" y2="501.30" stroke="#000" stroke-width="1.4"/>
<circle cx="339.90" cy="495.00" r="0.90" fill="#000"/>
<line x1="343.70" y1="488.80" x2="343.00" y2="501.30" stroke="#000" stroke-width="1.4"/>
<text transform="translate(348.55,491.10) scale(0.8000,1) skewX(-7)" x="0" y="0" font-size="11" style="font-family:'Liberation Sans';font-style:italic;stroke:#000;stroke-width:0.2px">2</text>
</svg>
</body></html>
